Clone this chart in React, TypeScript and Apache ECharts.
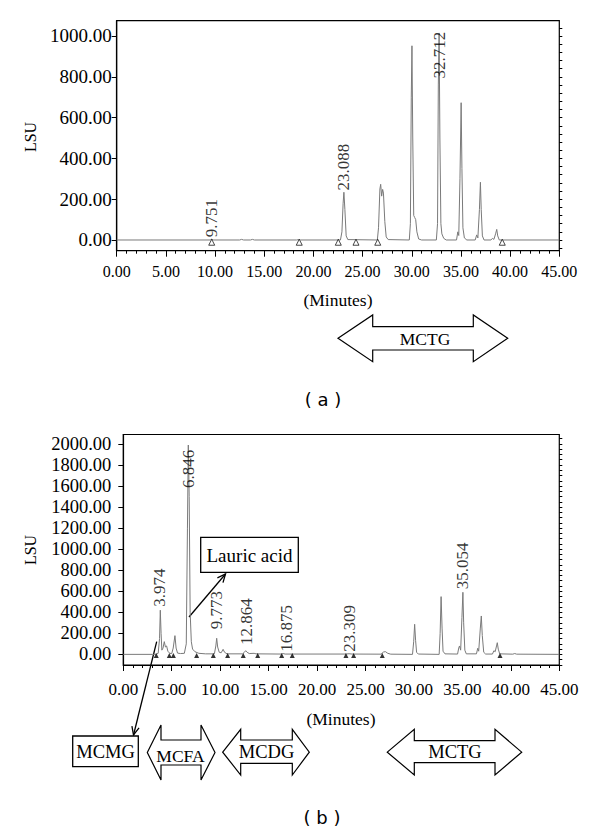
import React, { useEffect, useRef } from "react";
import * as echarts from "echarts";

// ---------- data ----------
const xTickLabels = [0, 5, 10, 15, 20, 25, 30, 35, 40, 45];
const topYTickLabels = [0, 200, 400, 600, 800, 1000];
const bottomYTickLabels = [0, 200, 400, 600, 800, 1000, 1200, 1400, 1600, 1800, 2000];

// chromatogram (a): [minutes, LSU]
const topTrace: [number, number][] = [
  [0, 0], [9.5, 0], [9.66, 4], [9.8, 0], [12.5, 0], [12.7, 3], [12.9, 0], [13.6, 0], [13.8, 3], [14.0, 0],
  [18.3, 0], [18.5, 2], [18.7, 0],
  [22.75, 0], [22.9, 40], [23.02, 180], [23.1, 234], [23.2, 150], [23.33, 20], [23.5, 2],
  [26.5, 0], [26.62, 60], [26.76, 250], [26.84, 273], [26.94, 215], [27.04, 248], [27.12, 230], [27.26, 90], [27.4, 15], [27.6, 2],
  [29.75, 0], [29.86, 80], [29.95, 700], [30.02, 952], [30.1, 500], [30.2, 120], [30.3, 110], [30.4, 100], [30.52, 40], [30.7, 5], [31.0, 0],
  [32.5, 0], [32.62, 80], [32.7, 760], [32.78, 1015], [32.86, 500], [32.96, 80], [33.06, 30], [33.25, 8], [33.5, 0],
  [34.55, 0], [34.68, 40], [34.78, 22], [34.9, 300], [35.02, 673], [35.1, 350], [35.2, 60], [35.35, 10], [35.6, 0],
  [36.45, 0], [36.6, 25], [36.72, 10], [36.88, 150], [36.98, 283], [37.06, 150], [37.18, 20], [37.35, 0],
  [38.05, 0], [38.2, 8], [38.35, 3], [38.52, 30], [38.64, 52], [38.74, 20], [38.9, 0], [45, 0],
];

// chromatogram (b): [minutes, LSU]
const bottomTrace: [number, number][] = [
  [0, 0], [3.0, 0], [3.4, 2], [3.6, 10], [3.74, 150], [3.82, 420], [3.9, 200], [3.98, 40], [4.1, 60], [4.23, 121], [4.35, 70],
  [4.47, 80], [4.6, 30], [4.8, 10], [5.0, 8], [5.15, 60], [5.33, 178], [5.45, 60], [5.6, 12], [5.9, 8], [6.3, 10],
  [6.5, 100], [6.62, 1200], [6.71, 1990], [6.8, 1500], [6.9, 400], [7.02, 120], [7.15, 50], [7.4, 25], [7.8, 10], [8.5, 5],
  [9.4, 5], [9.55, 80], [9.64, 153], [9.74, 70], [9.9, 20], [10.1, 15], [10.3, 48], [10.45, 20], [10.7, 5],
  [12.3, 5], [12.5, 20], [12.63, 35], [12.78, 20], [13.0, 8], [13.5, 10], [13.7, 5],
  [16.3, 3], [16.5, 8], [16.7, 3], [23.0, 3], [23.3, 6], [23.6, 3],
  [26.6, 2], [26.85, 22], [27.05, 26], [27.3, 10], [27.6, 2],
  [29.85, 0], [29.97, 120], [30.07, 286], [30.17, 130], [30.27, 20], [30.45, 3],
  [32.6, 0], [32.7, 200], [32.8, 549], [32.9, 250], [33.0, 30], [33.2, 5],
  [34.5, 3], [34.62, 60], [34.7, 80], [34.82, 40], [34.95, 350], [35.05, 590], [35.13, 300], [35.25, 40], [35.4, 5],
  [36.45, 5], [36.58, 58], [36.68, 30], [36.85, 250], [36.95, 365], [37.05, 180], [37.2, 20], [37.4, 3],
  [38.1, 3], [38.25, 35], [38.38, 25], [38.52, 80], [38.6, 111], [38.7, 50], [38.85, 5],
  [40.2, 2], [40.4, 8], [40.6, 2], [45, 0],
];

// integration markers (minutes)
const topMarkers = [9.66, 18.56, 22.53, 24.33, 26.54, 39.2];
const bottomMarkers = [3.4, 4.75, 5.17, 7.57, 9.29, 10.77, 12.38, 13.87, 16.35, 17.44, 22.98, 23.77, 26.73, 38.88];

// retention-time labels: [text, minutes, LSU at label start]
const topPeakLabels: [string, number, number][] = [
  ["9.751", 9.66, 14],
  ["23.088", 23.05, 242],
  ["32.712", 32.78, 792],
];
const bottomPeakLabels: [string, number, number][] = [
  ["3.974", 3.72, 453],
  ["6.846", 6.78, 1582],
  ["9.773", 9.64, 238],
  ["12.864", 12.74, 90],
  ["16.875", 16.86, 26],
  ["23.309", 23.32, 26],
  ["35.054", 35.03, 619],
];

const SERIF = "Liberation Serif";
const SANS = "DejaVu Sans";

function minorValues(step: number, lo: number, hi: number) {
  const out: number[] = [];
  for (let v = lo; v <= hi + 1e-9; v += step) out.push(v);
  return out;
}

function dblArrow(x0: number, x1: number, x2: number, x3: number, top: number, st: number, sb: number, bot: number) {
  const cy = (top + bot) / 2;
  return {
    type: "polygon",
    shape: {
      points: [
        [x0, cy], [x1, top], [x1, st], [x2, st], [x2, top], [x3, cy],
        [x2, bot], [x2, sb], [x1, sb], [x1, bot],
      ],
    },
    style: { fill: "#fff", stroke: "#000", lineWidth: 1.2 },
  };
}

function arrow(x1: number, y1: number, x2: number, y2: number) {
  const a = Math.atan2(y2 - y1, x2 - x1);
  const L = 9, w = 0.42;
  return [
    { type: "line", shape: { x1, y1, x2, y2 }, style: { stroke: "#000", lineWidth: 1.3 } },
    {
      type: "polyline",
      shape: {
        points: [
          [x2 - L * Math.cos(a - w), y2 - L * Math.sin(a - w)],
          [x2, y2],
          [x2 - L * Math.cos(a + w), y2 - L * Math.sin(a + w)],
        ],
      },
      style: { stroke: "#000", lineWidth: 1.3, fill: "none" },
    },
  ];
}

function txt(text: string, x: number, y: number, size: number, family = SERIF, rotation = 0) {
  return {
    type: "text",
    x,
    y,
    rotation,
    style: { text, fill: "#000", fontSize: size, fontFamily: family, align: "center", verticalAlign: "middle" },
  };
}

export default function App() {
  const ref = useRef<HTMLDivElement>(null);
  useEffect(() => {
    const chart = echarts.init(ref.current!, null, { renderer: "svg" });

    const xAxisBase = (gridIndex: number, fontSize: number, margin: number) => ({
      type: "value",
      gridIndex,
      min: xTickLabels[0],
      max: xTickLabels[xTickLabels.length - 1],
      interval: 5,
      axisLine: { show: true, onZero: false, lineStyle: { color: "#000", width: 1.2 } },
      axisTick: { show: true, length: 6, lineStyle: { color: "#000", width: 1 } },
      minorTick: { show: true, splitNumber: 5, length: 3, lineStyle: { color: "#000", width: 1 } },
      axisLabel: {
        color: "#000",
        fontFamily: SERIF,
        fontSize,
        margin,
        formatter: (v: number) => v.toFixed(2),
      },
      splitLine: { show: false },
      minorSplitLine: { show: false },
    });

    const yLabelAxis = (gridIndex: number, min: number, max: number, labels: number[], fontSize: number, margin: number) => ({
      type: "value",
      gridIndex,
      min,
      max,
      axisLine: { show: true, onZero: false, lineStyle: { color: "#000", width: 1.2 } },
      axisTick: { show: true, length: 5, customValues: labels, lineStyle: { color: "#000" } },
      axisLabel: {
        show: true,
        customValues: labels,
        color: "#000",
        fontFamily: SERIF,
        fontSize,
        margin,
        formatter: (v: number) => v.toFixed(2),
      },
      splitLine: { show: false },
    });
    const yMinorAxis = (gridIndex: number, min: number, max: number, ticks: number[]) => ({
      type: "value",
      gridIndex,
      min,
      max,
      axisLine: { show: false, onZero: false },
      axisTick: { show: true, length: 3, customValues: ticks, lineStyle: { color: "#000" } },
      axisLabel: { show: false },
      splitLine: { show: false },
    });

    const traceSeries = (data: [number, number][], xi: number, yi: number) => ({
      type: "line",
      xAxisIndex: xi,
      yAxisIndex: yi,
      data,
      showSymbol: false,
      symbol: "none",
      silent: true,
      lineStyle: { color: "#7a7a7a", width: 1 },
    });
    const labelSeries = (labels: [string, number, number][], xi: number, yi: number) => ({
      type: "scatter",
      xAxisIndex: xi,
      yAxisIndex: yi,
      symbolSize: 1,
      silent: true,
      itemStyle: { color: "rgba(0,0,0,0)" },
      data: labels.map(([name, t, v]) => ({ name, value: [t, v] })),
      label: {
        show: true,
        formatter: "{b}",
        position: "inside",
        rotate: 90,
        align: "left",
        verticalAlign: "middle",
        color: "#000",
        fontFamily: SERIF,
        fontSize: 17,
      },
      z: 5,
    });

    const option: any = {
      animation: false,
      backgroundColor: "#fff",
      textStyle: { fontFamily: SERIF },
      grid: [
        { left: 116.7, top: 20.7, width: 442.6, height: 230, show: true, borderColor: "#000", borderWidth: 1.2, backgroundColor: "transparent" },
        { left: 123.3, top: 434.5, width: 436, height: 230.5, show: true, borderColor: "#000", borderWidth: 1.2, backgroundColor: "transparent" },
      ],
      xAxis: [xAxisBase(0, 16, 13), xAxisBase(1, 17, 16)],
      yAxis: [
        yLabelAxis(0, -52.5, 1075, topYTickLabels, 19, 5),
        yMinorAxis(0, -52.5, 1075, minorValues(40, -40, 1040)),
        yLabelAxis(1, -101, 2090, bottomYTickLabels, 18.5, 12),
        yMinorAxis(1, -101, 2090, minorValues(50, -100, 2050)),
      ],
      series: [
        traceSeries(topTrace, 0, 0),
        {
          type: "scatter",
          xAxisIndex: 0,
          yAxisIndex: 0,
          symbol: "triangle",
          symbolSize: 6,
          silent: true,
          itemStyle: { color: "#fff", borderColor: "#000", borderWidth: 0.9 },
          data: topMarkers.map((t) => [t, -11]),
          z: 4,
        },
        labelSeries(topPeakLabels, 0, 0),
        traceSeries(bottomTrace, 1, 2),
        {
          type: "scatter",
          xAxisIndex: 1,
          yAxisIndex: 2,
          symbol: "triangle",
          symbolSize: 5,
          silent: true,
          itemStyle: { color: "#000" },
          data: bottomMarkers.map((t) => [t, -10]),
          z: 4,
        },
        labelSeries(bottomPeakLabels, 1, 2),
      ],
      graphic: [
        // panel (a)
        txt("LSU", 30, 137, 16, SERIF, Math.PI / 2),
        txt("(Minutes)", 338, 300, 17.5),
        dblArrow(338, 372.7, 473.3, 507.7, 315, 326.7, 350, 361.7),
        txt("MCTG", 425, 339, 17.5),
        txt("( a )", 323, 399, 18, SANS),
        // panel (b)
        txt("LSU", 30, 550, 16, SERIF, Math.PI / 2),
        txt("(Minutes)", 341, 719, 17.5),
        {
          type: "rect",
          shape: { x: 200.7, y: 537.3, width: 97.6, height: 35 },
          style: { fill: "#fff", stroke: "#000", lineWidth: 1.3 },
        },
        txt("Lauric acid", 249.5, 555, 19),
        ...arrow(189, 617, 225.5, 574),
        ...arrow(156.7, 641.7, 133.5, 735),
        {
          type: "rect",
          shape: { x: 72.7, y: 736, width: 65.6, height: 30.7 },
          style: { fill: "#fff", stroke: "#000", lineWidth: 1.3 },
        },
        txt("MCMG", 105.5, 751.5, 18.5),
        dblArrow(147.3, 161, 201, 215, 725, 740, 765, 780),
        txt("MCFA", 180.5, 756, 17.5),
        dblArrow(222.7, 240.7, 292.3, 309.3, 729.3, 740, 763.3, 775),
        txt("MCDG", 266.5, 751.7, 18.5),
        dblArrow(387.3, 414.3, 495, 521.7, 729.3, 740.7, 762.7, 775),
        txt("MCTG", 455, 751.7, 18.5),
        txt("( b )", 322, 817, 18, SANS),
      ],
    };

    chart.setOption(option);
    return () => chart.dispose();
  }, []);

  return (
    <div
      ref={ref}
      style={{ position: "fixed", left: 0, top: 0, width: 600, height: 831, background: "#fff" }}
    />
  );
}
